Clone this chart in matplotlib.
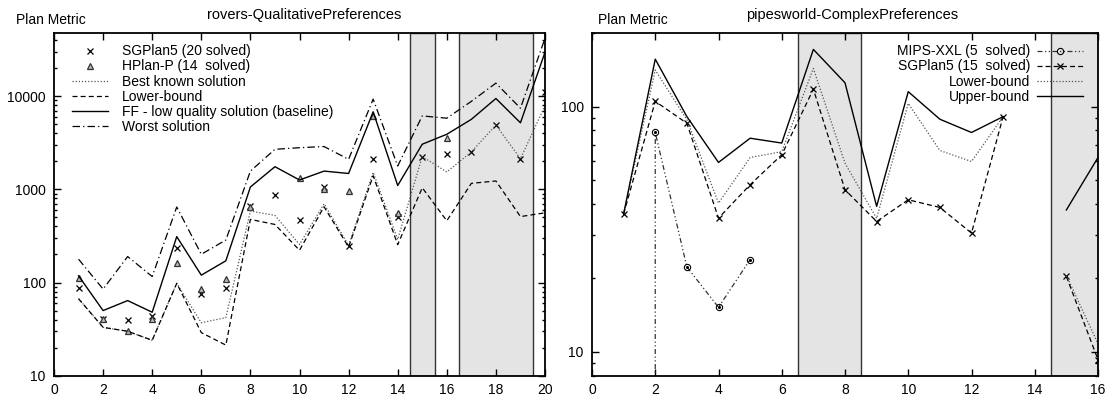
import numpy as np
import matplotlib
matplotlib.use("Agg")
import matplotlib.pyplot as plt
from matplotlib import ticker

plt.rcParams['font.family'] = ['Liberation Sans', 'DejaVu Sans']
plt.rcParams['font.size'] = 10

# rovers-QualitativePreferences
rov_x = np.arange(1, 21)
rov_sgplan = [88, 41, 39.5, 44, 233, 75, 88, 670, 870, 465,
              1060, 245, 2100, 510, 2250, 2400, 2520, 4900, 2130, 11200]
rov_hplan_x = [1, 2, 3, 4, 5, 6, 7, 8, 10, 11, 12, 13, 14, 16]
rov_hplan = [113, 41, 30, 41, 164, 85, 110, 640, 1330, 1020, 960, 6200, 560, 3540]
rov_best = [67, 33, 30, 24, 98, 37, 42, 585, 525, 256,
            700, 250, 1520, 290, 2250, 1535, 2520, 4900, 2130, 7900]
rov_lower = [67, 33, 30, 24, 98, 29, 21.3, 476, 420, 222,
             650, 240, 1400, 255, 1040, 460, 1160, 1230, 510, 560]
rov_ff = [118, 50, 64, 48, 311, 120, 171, 1060, 1750, 1260,
          1570, 1480, 6800, 1100, 3050, 3900, 5640, 9440, 5180, 29600]
rov_worst = [178, 85, 190, 116, 647, 201, 286, 1570, 2690, 2800,
             2880, 2100, 9300, 1780, 6140, 5800, 8800, 13800, 7430, 41800]
rov_spans = [(14.5, 15.5), (16.5, 19.5)]

# pipesworld-ComplexPreferences (problem 14 unsolved)
nan = np.nan
pip_x = np.arange(1, 17)
pip_sgplan = [36.5, 105, 85.5, 35.1, 48, 63.6, 117.7, 45.8, 34, 41.7,
              38.8, 30.5, 91, nan, 20.3, 9.3]
pip_lower = [36.5, 141, 88.3, 40.4, 62, 65.5, 143, 58.8, 35, 103,
             66.2, 59.7, 91, nan, 20.5, 10.8]
pip_upper = [36.5, 156, 91, 59.2, 74.3, 71, 171, 125, 39.2, 115,
             88.8, 78.4, 91, nan, 37.9, 62]
mips_x = [2, 2, 3, 4, 5]
mips = [1, 78.4, 22.2, 15.2, 23.8]
pip_spans = [(6.5, 8.5), (14.5, 16.5)]

DOT = (0, (1, 1.5))
DASH = (0, (4, 2.5))
DASHDOT = (0, (6, 2.5, 1, 2.5))
DASHDOTDOT = (0, (4, 2, 1, 2, 1, 2))

fig = plt.figure(figsize=(11.1, 3.98), dpi=100)
W, H = 1110.0, 398.0
ax1 = fig.add_axes([54 / W, 1 - 375.7 / H, 491 / W, 343 / H])
ax2 = fig.add_axes([592 / W, 1 - 375.7 / H, 506 / W, 343 / H])


def style_axes(ax):
    ax.set_yscale('log')
    for s in ax.spines.values():
        s.set_linewidth(1.3)
    ax.tick_params(which='both', direction='in', top=True, right=True,
                   width=1.0, labelsize=10)
    ax.tick_params(which='major', length=5)
    ax.tick_params(which='minor', length=2.5)
    ax.tick_params(axis='y', pad=6)
    ax.tick_params(axis='x', pad=5)
    ax.xaxis.set_major_locator(ticker.MultipleLocator(2))
    ax.yaxis.set_major_formatter(ticker.FuncFormatter(lambda v, _: f'{v:g}'))
    ax.yaxis.set_minor_locator(ticker.LogLocator(subs=np.arange(2, 10)))
    ax.yaxis.set_minor_formatter(ticker.NullFormatter())


def shade(ax, spans):
    for a, b in spans:
        ax.axvspan(a, b, facecolor='#e4e4e4', edgecolor='#333333', lw=1.0, zorder=0)


# left panel
style_axes(ax1)
shade(ax1, rov_spans)
ax1.plot(rov_x, rov_sgplan, ls='none', marker='x', ms=4.8, mew=0.9, color='black',
         label='SGPlan5 (20 solved)')
ax1.plot(rov_hplan_x, rov_hplan, ls='none', marker='^', ms=4.2, mew=0.9,
         mfc='#bbbbbb', mec='#333333', label='HPlan-P (14  solved)')
ax1.plot(rov_x, rov_best, ls=DOT, lw=0.9, color='#555555', label='Best known solution')
ax1.plot(rov_x, rov_lower, ls=DASH, lw=0.9, color='black', label='Lower-bound')
ax1.plot(rov_x, rov_ff, ls='-', lw=1.0, color='black',
         label='FF - low quality solution (baseline)')
ax1.plot(rov_x, rov_worst, ls=DASHDOT, lw=0.9, color='black', label='Worst solution')
ax1.set_xlim(0, 20)
ax1.set_ylim(10, 48000)
ax1.legend(loc='upper left', bbox_to_anchor=(0.037, 0.966), frameon=False,
           borderpad=0, borderaxespad=0, labelspacing=0.08, handlelength=2.6,
           handletextpad=1.0, numpoints=1, fontsize=10)

# right panel
style_axes(ax2)
shade(ax2, pip_spans)
ax2.plot(mips_x, mips, ls=DASHDOTDOT, lw=0.9, color='#333333', marker='o', ms=4.5,
         mfc='none', mec='black', mew=0.8, label='MIPS-XXL (5  solved)')
ax2.plot(mips_x, mips, ls='none', marker='o', ms=1.2, color='black')
ax2.plot(pip_x, pip_sgplan, ls=DASH, lw=0.9, color='black', marker='x', ms=4.8, mew=0.9,
         label='SGPlan5 (15  solved)')
ax2.plot(pip_x, pip_lower, ls=DOT, lw=0.9, color='#555555', label='Lower-bound')
ax2.plot(pip_x, pip_upper, ls='-', lw=1.0, color='black', label='Upper-bound')
ax2.set_xlim(0, 16)
ax2.set_ylim(8, 200)
ax2.legend(loc='upper right', bbox_to_anchor=(0.970, 0.966), frameon=False,
           borderpad=0, borderaxespad=0, labelspacing=0.08, handlelength=3.3,
           handletextpad=0.5, numpoints=1, markerfirst=False, fontsize=10)

fig.text(16 / W, 1 - 20 / H, 'Plan Metric', ha='left', va='center', fontsize=10)
fig.text(598 / W, 1 - 20 / H, 'Plan Metric', ha='left', va='center', fontsize=10)
fig.text(304 / W, 1 - 15 / H, 'rovers-QualitativePreferences', ha='center', va='center',
         fontsize=10.5)
fig.text(852 / W, 1 - 15 / H, 'pipesworld-ComplexPreferences', ha='center', va='center',
         fontsize=10.5)

fig.savefig('out.png', dpi=100)
